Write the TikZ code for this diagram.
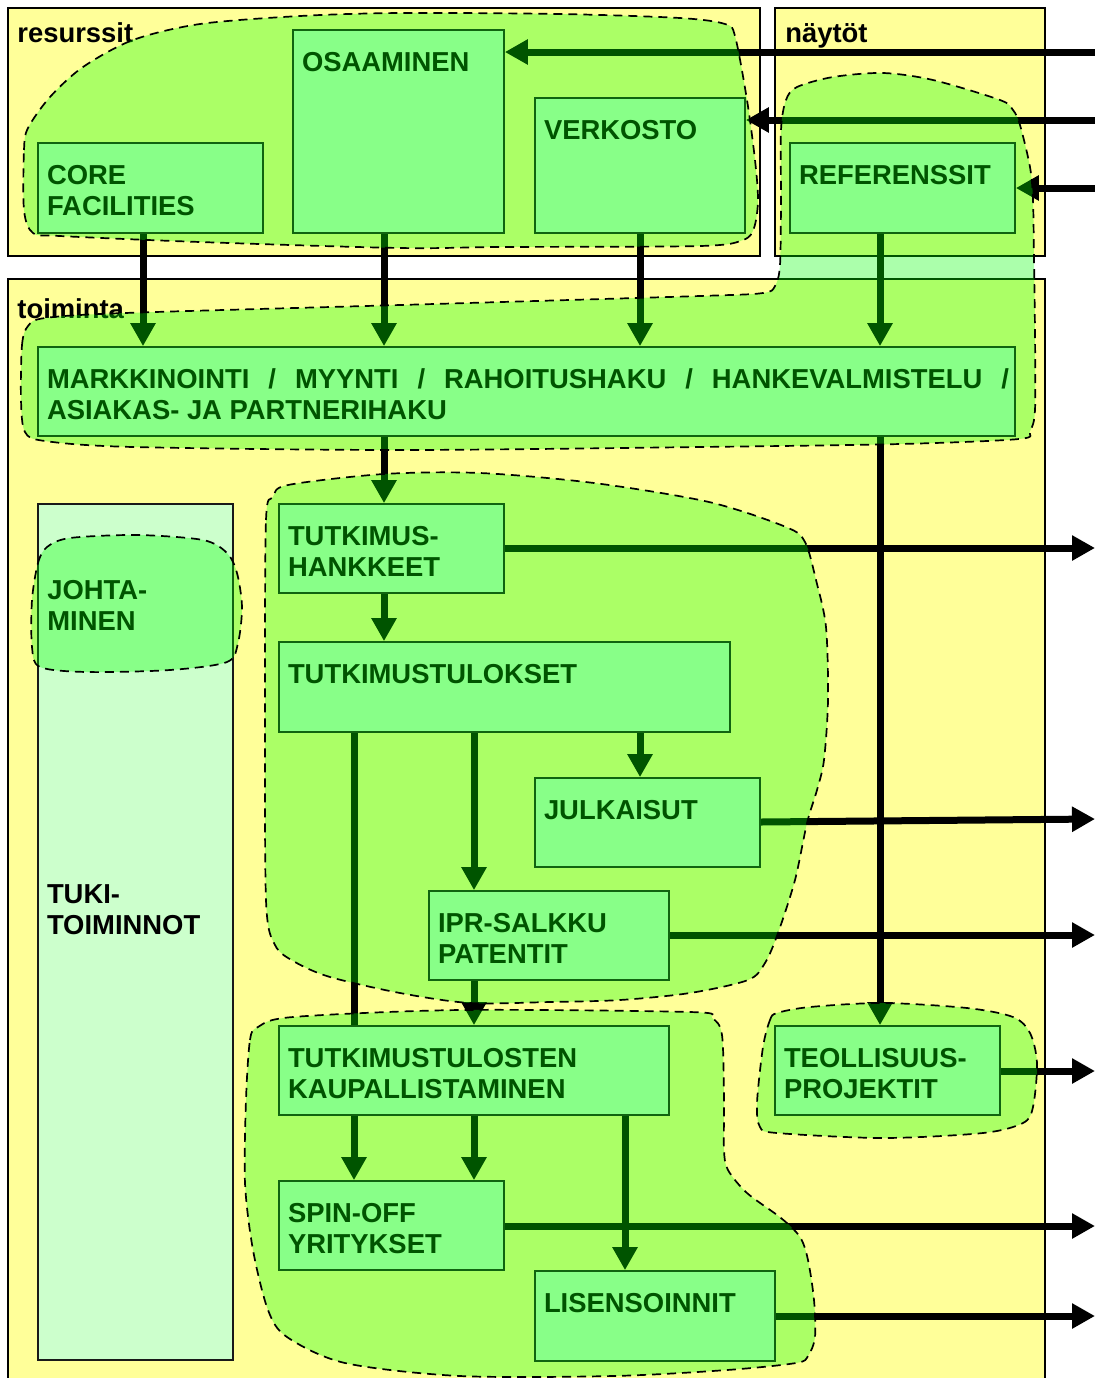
\documentclass[tikz,border=0pt]{standalone}
\usepackage{fontspec}
\setmainfont{Liberation Sans}
\usetikzlibrary{arrows.meta,fit,calc}
\definecolor{paneyellow}{HTML}{FFFF99}
\definecolor{boxmint}{HTML}{CCFFCC}
% left-aligned lines, baseline on the first line
\newcommand{\stack}[1]{\vtop{\halign{##\hfil\cr#1\crcr}}}
% rectangular box from its two corners
\newcommand{\mkbox}[5]{%
  \path (#2,#3) coordinate (#1-nw) (#4,#5) coordinate (#1-se);
  \node[stepbox, fit=(#1-nw)(#1-se)] (#1) {};}
\tikzset{
  panel/.style={draw=black, line width=1pt, fill=paneyellow},
  stepbox/.style={draw=black!90, line width=0.9pt, fill=boxmint, inner sep=0pt},
  lbl/.style={anchor=base west, inner sep=0pt, font=\bfseries\fontsize{13.7}{15.5}\selectfont},
  arr/.style={line width=3.5pt, -{Triangle[width=12pt,length=11.5pt]}},
  bar/.style={line width=3.5pt},
  blob/.style={fill=green, fill opacity=0.33, draw=none},
  blobline/.style={draw=black, line width=0.85pt, dash pattern=on 4.5pt off 3pt},
}
\begin{document}
\begin{tikzpicture}[x=0.5pt, y=-0.5pt]
\useasboundingbox (0,0) rectangle (1095,1378);
\clip (0,0) rectangle (1095,1378);

% panels
\path[panel] (8,8) rectangle (760,256);
\path[panel] (775,8) rectangle (1045,256);
\path[panel] (8,279) rectangle (1045,1400);

% boxes
\mkbox{core}{38}{143}{263}{233}
\mkbox{osaa}{293}{30}{504}{233}
\mkbox{verk}{535}{98}{745}{233}
\mkbox{ref}{790}{143}{1015}{233}
\mkbox{mark}{38}{347}{1015}{436}
\mkbox{tuki}{38}{504}{233}{1360}
\mkbox{hank}{279}{504}{504}{593}
\mkbox{tulo}{279}{642}{730}{732}
\mkbox{julk}{535}{778}{760}{867}
\mkbox{ipr}{429}{891}{669}{980}
\mkbox{kaup}{279}{1026}{669}{1115}
\mkbox{spin}{279}{1181}{504}{1270}
\mkbox{lis}{535}{1271}{775}{1361}
\mkbox{teol}{775}{1026}{1000}{1115}

% box texts
\node[lbl] (core-t) at ($(core.north west)+(9.5,42)$) {\stack{CORE\cr FACILITIES}};
\node[lbl] (osaa-t) at ($(osaa.north west)+(9.5,42)$) {OSAAMINEN};
\node[lbl] (verk-t) at ($(verk.north west)+(9.5,42)$) {VERKOSTO};
\node[lbl] (ref-t) at ($(ref.north west)+(9.5,42)$) {REFERENSSIT};
\node[lbl] (mark-t) at ($(mark.north west)+(9.5,42)$) {\stack{\hbox to 481pt{MARKKINOINTI\hfill/\hfill MYYNTI\hfill/\hfill RAHOITUSHAKU\hfill/\hfill HANKEVALMISTELU\hfill/}\cr ASIAKAS- JA PARTNERIHAKU}};
\node[lbl] (tuki-t) at ($(tuki.west)+(9.5,-29)$) {\stack{TUKI-\cr TOIMINNOT}};
\node[lbl] (hank-t) at ($(hank.north west)+(9.5,42)$) {\stack{TUTKIMUS-\cr HANKKEET}};
\node[lbl] (tulo-t) at ($(tulo.north west)+(9.5,42)$) {TUTKIMUSTULOKSET};
\node[lbl] (julk-t) at ($(julk.north west)+(9.5,42)$) {JULKAISUT};
\node[lbl] (ipr-t) at ($(ipr.north west)+(9.5,42)$) {\stack{IPR-SALKKU\cr PATENTIT}};
\node[lbl] (kaup-t) at ($(kaup.north west)+(9.5,42)$) {\stack{TUTKIMUSTULOSTEN\cr KAUPALLISTAMINEN}};
\node[lbl] (spin-t) at ($(spin.north west)+(9.5,42)$) {\stack{SPIN-OFF\cr YRITYKSET}};
\node[lbl] (lis-t) at ($(lis.north west)+(9.5,42)$) {LISENSOINNIT};
\node[lbl] (teol-t) at ($(teol.north west)+(9.5,42)$) {\stack{TEOLLISUUS-\cr PROJEKTIT}};
\node[lbl] (johta) at (47,599) {\stack{JOHTA-\cr MINEN}};

% panel titles
\node[lbl] (res-t) at (17,42) {resurssit};
\node[lbl] (nay-t) at (785,42) {näytöt};
\node[lbl] (toi-t) at (17,318) {toiminta};

% incoming arrows
\coordinate (i1) at (1095,52);
\coordinate (i2) at (1095,120);
\coordinate (i3) at (1095,188);
\draw[arr] (i1) -- (i1 -| osaa.east);
\draw[arr] (i2) -- (i2 -| verk.east);
\draw[arr] (i3) -- (i3 -| ref.east);

% flow downwards
\draw[arr] (core.south -| 143,0) -- (mark.north -| 143,0);
\draw[arr] (osaa.south -| 384,0) -- (mark.north -| 384,0);
\draw[arr] (verk.south -| 640,0) -- (mark.north -| 640,0);
\draw[arr] (ref.south -| 880,0) -- (mark.north -| 880,0);
\draw[arr] (mark.south -| 384,0) -- (hank.north -| 384,0);
\draw[arr] (mark.south -| 880,0) -- (teol.north -| 880,0);
\draw[arr] (hank.south -| 384,0) -- (tulo.north -| 384,0);
\draw[arr] (tulo.south -| 640,0) -- (julk.north -| 640,0);
\draw[arr] (tulo.south -| 474,0) -- (ipr.north -| 474,0);
\draw[bar] (tulo.south -| 354,0) -- (kaup.north -| 354,0);
\draw[arr] (ipr.south -| 474,0) -- (kaup.north -| 474,0);
\draw[arr] (kaup.south -| 354,0) -- (spin.north -| 354,0);
\draw[arr] (kaup.south -| 474,0) -- (spin.north -| 474,0);
\draw[arr] (kaup.south -| 625,0) -- (lis.north -| 625,0);

% outgoing arrows
\coordinate (o1) at (1095,548);
\coordinate (o2) at (1095,819);
\coordinate (o3) at (1095,935);
\coordinate (o4) at (1095,1071);
\coordinate (o5) at (1095,1226);
\coordinate (o6) at (1095,1316);
\draw[arr] (o1 -| hank.east) -- (o1);
\draw[arr] (julk.east |- 0,822) -- (o2);
\draw[arr] (o3 -| ipr.east) -- (o3);
\draw[arr] (o4 -| teol.east) -- (o4);
\draw[arr] (o5 -| spin.east) -- (o5);
\draw[arr] (o6 -| lis.east) -- (o6);

% groupings
\def\blobA{(24,210) (24,150) (28,128) (50,97) (83,67) (133,40) (200,24) (300,16) (400,13) (560,14) (680,18) (725,24) (735,36) (747,100) (755,160) (758,200) (754,228) (743,240) (700,246) (500,247) (400,248) (200,242) (60,236) (33,233)}
\def\blobB{(21,400) (22,345) (28,326) (45,318) (125,313) (400,305) (700,296) (763,293) (775,286) (780,265) (781,200) (781,130) (786,100) (797,87) (833,77) (883,73) (933,80) (1000,100) (1013,110) (1020,125) (1030,167) (1033,200) (1034,260) (1035,333) (1035,410) (1030,431) (1019,439) (900,444) (700,447) (400,450) (133,447) (45,441) (25,432)}
\def\blobC{(265,700) (266,520) (273,497) (288,485) (384,474) (480,473) (594,483) (709,502) (786,527) (805,542) (816,580) (826,627) (828,700) (824,760) (817,790) (807,823) (795,880) (778,933) (765,963) (748,980) (690,993) (620,1000) (550,1002) (470,1003) (400,993) (330,977) (295,962) (275,945) (266,900)}
\def\blobD{(246,1100) (250,1040) (258,1027) (293,1017) (460,1010) (690,1012) (712,1018) (722,1035) (724,1100) (724,1150) (728,1170) (747,1193) (781,1218) (800,1237) (808,1260) (814,1300) (815,1337) (808,1356) (796,1363) (727,1370) (613,1376) (460,1376) (345,1363) (287,1337) (268,1310) (253,1250) (245,1183)}
\def\blobE{(763,1047) (770,1020) (777,1013) (810,1007) (883,1003) (967,1008) (1013,1017) (1030,1033) (1037,1063) (1033,1107) (1023,1123) (983,1133) (883,1138) (777,1133) (760,1127) (757,1103)}
\def\blobF{(32,600) (38,563) (47,547) (70,538) (137,535) (203,540) (227,553) (237,573) (242,607) (238,643) (227,662) (170,670) (87,672) (40,667) (32,647)}

\foreach \b in {\blobA,\blobB,\blobC,\blobD,\blobE,\blobF}{
  \path[blob] plot[smooth cycle, tension=0.5] coordinates {\b};
  \path[blobline] plot[smooth cycle, tension=0.5] coordinates {\b};
}
\end{tikzpicture}
\end{document}
